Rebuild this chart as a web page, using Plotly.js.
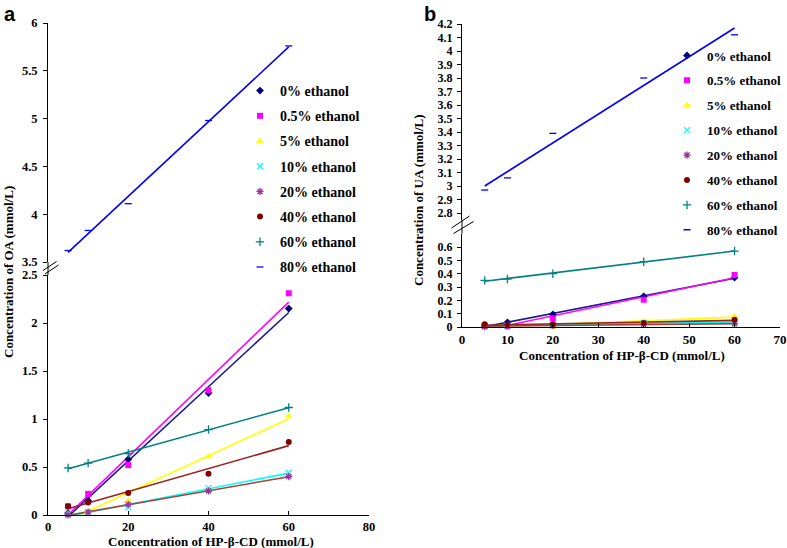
<!DOCTYPE html>
<html><head><meta charset="utf-8">
<script src="https://cdn.plot.ly/plotly-3.0.1.min.js"></script>
<style>html,body{margin:0;padding:0;background:#fff}#chart{width:787px;height:548px}</style>
</head><body><div id="chart"></div>
<script>
// ---- data ----
const hpcd = [5, 10, 20, 40, 60];
const seriesNames = ['0% ethanol','0.5% ethanol','5% ethanol','10% ethanol','20% ethanol','40% ethanol','60% ethanol','80% ethanol'];
// Panel a: OA (mmol/L)
const oa0  = [0.02, 0.15, 0.58, 1.27, 2.15];
const oa05 = [0.09, 0.22, 0.52, 1.30, 2.31];
const oa5  = [0.01, 0.04, 0.15, 0.61, 1.03];
const oa10 = [0.01, 0.02, 0.08, 0.28, 0.44];
const oa20 = [0.00, 0.03, 0.11, 0.25, 0.40];
const oa40 = [0.09, 0.13, 0.23, 0.43, 0.76];
const oa60 = [0.49, 0.54, 0.64, 0.89, 1.12];
const oa80 = [3.62, 3.83, 4.11, 4.98, 5.76];
// Panel b: UA (mmol/L)
const ua0  = [0.01, 0.035, 0.095, 0.23, 0.37];
const ua05 = [0.005, 0.005, 0.065, 0.205, 0.39];
const ua5  = [0.01, 0.01, 0.0, 0.045, 0.08];
const ua10 = [0.005, 0.01, 0.02, 0.03, 0.035];
const ua20 = [0.005, 0.01, 0.01, 0.02, 0.025];
const ua40 = [0.02, 0.015, 0.02, 0.03, 0.055];
const ua60 = [0.35, 0.36, 0.40, 0.49, 0.57];
const ua80 = [2.97, 3.06, 3.39, 3.80, 4.12];
// ticks
const aXTicks = [0, 20, 40, 60, 80];
const aBotTicks = [0, 0.5, 1, 1.5, 2, 2.5];
const aBotLabels = ['0', '0.5', '1', '1.5', '2', '2.5'];
const aTopTicks = [3.5, 4, 4.5, 5, 5.5, 6];
const aTopLabels = ['3.5', '4', '4.5', '5', '5.5', '6'];
const bXTicks = [0, 10, 20, 30, 40, 50, 60, 70];
const bBotTicks = [0, 0.1, 0.2, 0.3, 0.4, 0.5, 0.6];
const bBotLabels = ['0', '0.1', '0.2', '0.3', '0.4', '0.5', '0.6'];
const bTopTicks = [2.8, 2.9, 3.0, 3.1, 3.2, 3.3, 3.4, 3.5, 3.6, 3.7, 3.8, 3.9, 4.0, 4.1, 4.2];
const bTopLabels = ['2.8','2.9','3','3.1','3.2','3.3','3.4','3.5','3.6','3.7','3.8','3.9','4','4.1','4.2'];

// ---- styles ----
const markerColors = ['#000080','#FF00FF','#FFFF00','#00FFFF','#993399','#800000','#008080','#0000FF'];
const lineColors   = ['#1a1a8c','#FF00FF','#FFFF00','#00FFFF','#a0453a','#9b2020','#008080','#0000FF'];
const symbols = ['diamond','square','triangle-up','x-thin-open','asterisk-open','circle','cross-thin-open','line-ew-open'];
const sizes = [6, 6, 7, 6, 6, 6, 6, 5];

const W = 787, H = 548;
const fx = p => p / W;
const fy = p => 1 - p / H;

function fit(xs, ys) {
  const n = xs.length;
  const mx = xs.reduce((a, b) => a + b, 0) / n;
  const my = ys.reduce((a, b) => a + b, 0) / n;
  let sxy = 0, sxx = 0;
  for (let i = 0; i < n; i++) { sxy += (xs[i] - mx) * (ys[i] - my); sxx += (xs[i] - mx) ** 2; }
  const s = sxy / sxx, c = my - s * mx;
  const ex = [xs[0], xs[n - 1]];
  return { x: ex, y: ex.map(x => s * x + c) };
}

const SERIF = 'Liberation Serif, Times New Roman, serif';
const serifBold = { family: SERIF, size: 13, color: '#000', weight: 'bold' };
const aTick = { family: SERIF, size: 12.5, color: '#000', weight: 'bold' };
const smallTick = { family: SERIF, size: 12, color: '#000', weight: 'bold' };

const traces = [];
function addPanel(seriesList, xa, yaBot, yaTop, legendId, prefix) {
  seriesList.forEach((ys, i) => {
    const ya = (i === 7) ? yaTop : yaBot;
    const f = fit(hpcd, ys);
    traces.push({
      x: f.x, y: f.y, xaxis: xa, yaxis: ya, mode: 'lines', showlegend: false,
      line: { color: lineColors[i], width: 1.6 }, hoverinfo: 'skip'
    });
  });
  seriesList.forEach((ys, i) => {
    const ya = (i === 7) ? yaTop : yaBot;
    const open = symbols[i].endsWith('open');
    traces.push({
      x: hpcd, y: ys, xaxis: xa, yaxis: ya, mode: 'markers', name: seriesNames[i],
      legend: legendId, legendgroup: prefix + i,
      marker: { symbol: symbols[i], size: sizes[i], color: markerColors[i],
        line: { color: markerColors[i], width: open ? 1.3 : 0 } },
      cliponaxis: false
    });
  });
}
addPanel([oa0, oa05, oa5, oa10, oa20, oa40, oa60, oa80], 'x', 'y', 'y2', 'legend', 'a');
addPanel([ua0, ua05, ua5, ua10, ua20, ua40, ua60, ua80], 'x2', 'y3', 'y4', 'legend2', 'b');

const axBase = {
  showgrid: false, zeroline: false, showline: true, linecolor: '#000', linewidth: 1,
  tickcolor: '#000', ticklen: 4, tickwidth: 1, tickfont: serifBold, tickmode: 'array', fixedrange: true
};

const layout = {
  width: W, height: H,
  margin: { l: 0, r: 0, t: 0, b: 0 },
  paper_bgcolor: '#fff', plot_bgcolor: 'rgba(0,0,0,0)',
  showlegend: true,
  xaxis: Object.assign({}, axBase, { domain: [fx(48), fx(369)], range: [0, 80], anchor: 'y', tickvals: aXTicks, ticks: 'inside', ticklabelstandoff: 0, tickfont: aTick }),
  yaxis: Object.assign({}, axBase, { domain: [fy(515), fy(275)], range: [0, 2.5], anchor: 'x', tickvals: aBotTicks, ticktext: aBotLabels, ticks: 'outside', ticklabelstandoff: 3, tickfont: aTick }),
  yaxis2: Object.assign({}, axBase, { domain: [fy(262), fy(23)], range: [3.5, 6], anchor: 'x', tickvals: aTopTicks, ticktext: aTopLabels, ticks: 'outside', ticklabelstandoff: 3, tickfont: aTick }),
  xaxis2: Object.assign({}, axBase, { domain: [fx(462), fx(780)], range: [0, 70], anchor: 'y3', tickvals: bXTicks, ticks: 'inside', ticklabelstandoff: 0 }),
  yaxis3: Object.assign({}, axBase, { domain: [fy(327), fy(233.7)], range: [0, 0.7], anchor: 'x2', tickvals: bBotTicks, ticktext: bBotLabels, ticks: 'outside', ticklabelstandoff: 2, tickfont: smallTick }),
  yaxis4: Object.assign({}, axBase, { domain: [fy(219.75), fy(24)], range: [2.75, 4.2], anchor: 'x2', tickvals: bTopTicks, ticktext: bTopLabels, ticks: 'outside', ticklabelstandoff: 2, tickfont: smallTick }),
  legend: {
    x: fx(240), y: fy(75), xanchor: 'left', yanchor: 'top',
    font: Object.assign({}, serifBold, { size: 14 }), bgcolor: 'rgba(0,0,0,0)',
    traceorder: 'grouped', tracegroupgap: 4, itemclick: false
  },
  legend2: {
    x: fx(667), y: fy(40.5), xanchor: 'left', yanchor: 'top',
    font: Object.assign({}, serifBold, { size: 13 }), bgcolor: 'rgba(0,0,0,0)',
    traceorder: 'grouped', tracegroupgap: 5, itemclick: false
  },
  annotations: [
    { text: 'a', x: fx(2), y: fy(1), xref: 'paper', yref: 'paper', xanchor: 'left', yanchor: 'top', showarrow: false,
      font: { family: 'Liberation Sans, Arial, sans-serif', size: 20, color: '#000', weight: 'bold' } },
    { text: 'b', x: fx(422), y: fy(1), xref: 'paper', yref: 'paper', xanchor: 'left', yanchor: 'top', showarrow: false,
      font: { family: 'Liberation Sans, Arial, sans-serif', size: 20, color: '#000', weight: 'bold' } },
    { text: 'Concentration of HP-β-CD (mmol/L)', x: fx(211), y: fy(541), xref: 'paper', yref: 'paper',
      xanchor: 'center', yanchor: 'middle', showarrow: false, font: serifBold },
    { text: 'Concentration of HP-β-CD (mmol/L)', x: fx(622), y: fy(355), xref: 'paper', yref: 'paper',
      xanchor: 'center', yanchor: 'middle', showarrow: false, font: serifBold },
    { text: 'Concentration of OA (mmol/L)', x: fx(8), y: fy(272), xref: 'paper', yref: 'paper', textangle: -90,
      xanchor: 'center', yanchor: 'middle', showarrow: false, font: serifBold },
    { text: 'Concentration of UA (mmol/L)', x: fx(418), y: fy(200), xref: 'paper', yref: 'paper', textangle: -90,
      xanchor: 'center', yanchor: 'middle', showarrow: false, font: serifBold }
  ],
  shapes: [
    // continue y axis line across the breaks
    { type: 'line', xref: 'paper', yref: 'paper', x0: fx(48), x1: fx(48), y0: fy(262), y1: fy(275), line: { color: '#000', width: 1 } },
    { type: 'line', xref: 'paper', yref: 'paper', x0: fx(462), x1: fx(462), y0: fy(219.75), y1: fy(233.7), line: { color: '#000', width: 1 } },
    // break marks
    { type: 'line', xref: 'paper', yref: 'paper', x0: fx(43), y0: fy(270.5), x1: fx(56.5), y1: fy(261.5), line: { color: '#000', width: 1 } },
    { type: 'line', xref: 'paper', yref: 'paper', x0: fx(45), y0: fy(274), x1: fx(58.5), y1: fy(265), line: { color: '#000', width: 1 } },
    { type: 'line', xref: 'paper', yref: 'paper', x0: fx(451.5), y0: fy(228), x1: fx(469.5), y1: fy(216), line: { color: '#000', width: 1 } },
    { type: 'line', xref: 'paper', yref: 'paper', x0: fx(453.5), y0: fy(233.5), x1: fx(473.5), y1: fy(221.5), line: { color: '#000', width: 1 } }
  ]
};

Plotly.newPlot('chart', traces, layout, { displayModeBar: false, staticPlot: true });
</script>
</body></html>
